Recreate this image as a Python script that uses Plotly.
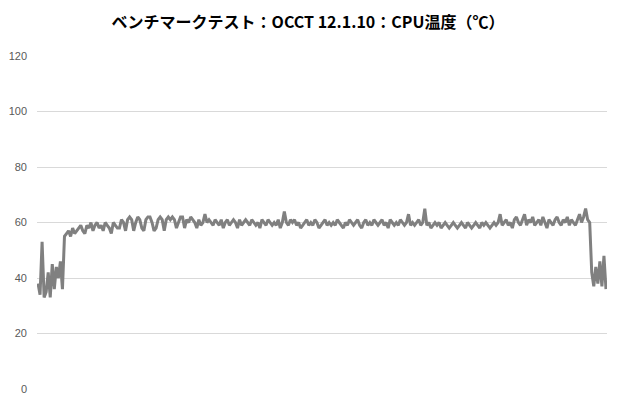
import plotly.graph_objects as go

# CPU temperature samples (°C)
idle_start = [38, 34, 53, 33, 35, 42, 33, 45, 36, 44, 40, 46, 36]
load_ramp = [55, 56, 57, 55, 58, 56, 57, 58, 59, 57, 56, 59, 58, 60, 57, 59, 60, 58, 59, 57,
             60, 59, 58, 56, 60, 59, 58]
load_early = [58, 61, 60, 57, 61, 62, 61, 57, 60, 62, 61, 58, 57, 61, 62, 62, 60, 57, 58, 61,
              62, 61, 57, 61, 62, 61, 62, 61, 58, 60, 62, 62, 58, 61, 60, 62, 61, 60, 58, 61,
              59, 60, 63, 60, 61]
load_steady = [60, 59, 61, 60, 59, 61, 58, 60, 61, 59, 60, 61, 60, 58, 61, 59, 60, 61, 60, 59,
               61, 60, 59, 60, 58, 61, 60, 59, 61, 60, 59, 60, 59, 61, 58, 60, 64, 60, 59, 61,
               60, 61, 59, 60, 58, 59, 60, 61, 59, 60, 59, 61, 60, 58, 59, 60, 61, 59, 60, 59,
               60, 59, 61, 60, 59, 58, 60, 59, 61, 60, 59, 60, 61, 59, 58, 60, 61, 59, 60, 59,
               61, 60, 59, 60, 61, 59, 60, 58, 61, 60, 59, 60, 59, 61, 60, 59, 60, 63, 59, 60,
               59, 60, 61, 59, 60, 65, 59, 60, 58, 59, 60, 59, 60, 58, 59, 60, 59, 58, 59, 60,
               59, 58, 59, 60, 59, 58, 60, 59, 58, 59, 60, 59, 58, 60, 59, 60, 59, 58, 59, 60,
               59, 60, 63, 59, 60, 61, 59, 60, 58, 61, 62, 60, 59, 61, 63, 59, 61, 60, 62, 59,
               60, 61, 59, 62, 60, 58, 61, 60, 59, 61, 62, 60, 59, 61, 60, 62, 59, 61, 60, 59,
               61, 63, 60, 62, 65, 61, 60]
idle_end = [42, 37, 44, 38, 46, 37, 48, 36]

temps = idle_start + load_ramp + load_early + load_steady + idle_end
samples = list(range(len(temps)))

fig = go.Figure()
fig.add_trace(go.Scatter(x=samples, y=temps, mode="lines",
                         line=dict(color="#808080", width=3)))

# page body adds 8px, so the figure is 8px smaller each way
fig.update_layout(
    width=612, height=392,
    margin=dict(l=29, r=13, t=48, b=11),
    paper_bgcolor="white", plot_bgcolor="white",
    showlegend=False,
    title=dict(text="<b>ベンチマークテスト：OCCT 12.1.10：CPU温度（℃）</b>",
               x=(308 - 8) / 612, xanchor="center", y=1 - 14 / 392, yanchor="middle",
               font=dict(family="Noto Sans CJK JP", size=16, color="#000000")),
)
fig.update_xaxes(range=[-0.5, len(temps) - 0.5], showticklabels=False,
                 showgrid=False, zeroline=False, showline=False)
fig.update_yaxes(range=[0, 120], dtick=20, showgrid=True, gridcolor="#d9d9d9",
                 gridwidth=1, zeroline=False, showline=False, ticks="",
                 automargin=False, ticklabelstandoff=9,
                 tickfont=dict(family="Liberation Sans", size=11, color="#595959"))

fig.write_html("out.html")
